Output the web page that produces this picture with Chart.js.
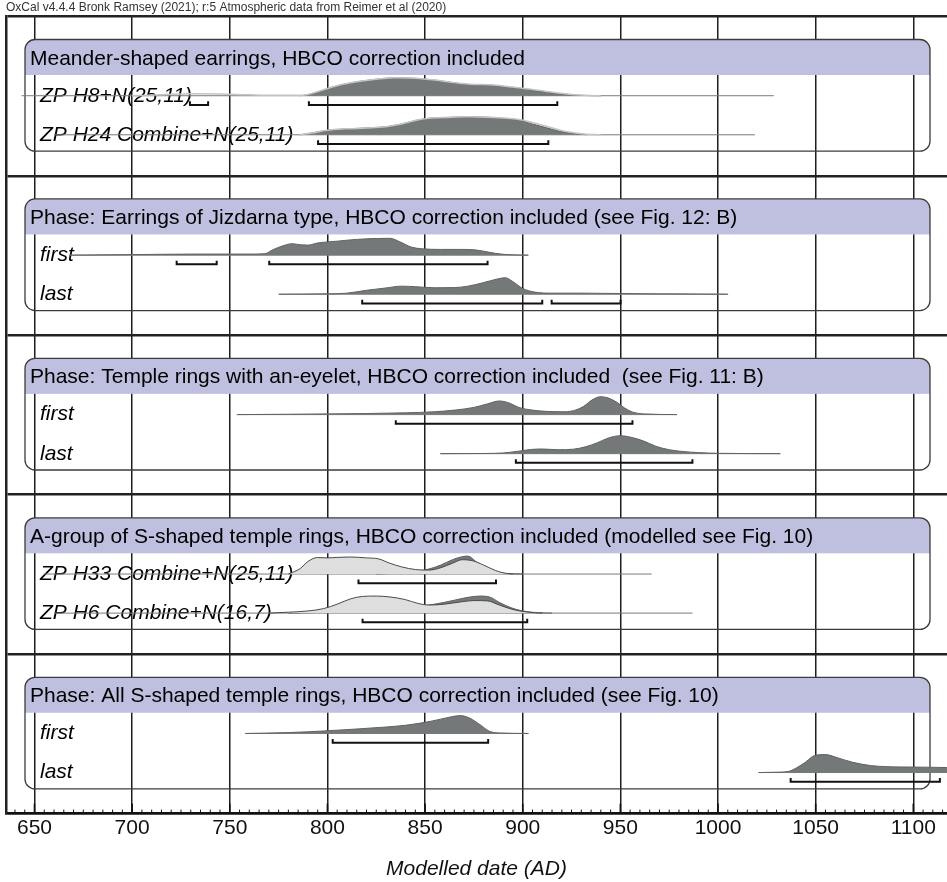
<!DOCTYPE html>
<html>
<head>
<meta charset="utf-8">
<script src="https://cdn.jsdelivr.net/npm/chart.js@4.4.1/dist/chart.umd.min.js"></script>
<style>
  html, body { margin: 0; padding: 0; background: #fff; }
</style>
</head>
<body>
<canvas id="chart" width="947" height="882"></canvas>
<script>
// axis ticks
const tickLabels = [650, 700, 750, 800, 850, 900, 950, 1000, 1050, 1100];

// panel headers and row labels
const panelTitles = [
  'Meander-shaped earrings, HBCO correction included',
  'Phase: Earrings of Jizdarna type, HBCO correction included (see Fig. 12: B)',
  'Phase: Temple rings with an-eyelet, HBCO correction included  (see Fig. 11: B)',
  'A-group of S-shaped temple rings, HBCO correction included (modelled see Fig. 10)',
  'Phase: All S-shaped temple rings, HBCO correction included (see Fig. 10)'
];
const rowLabels = [
  ['ZP H8+N(25,11)', 'ZP H24 Combine+N(25,11)'],
  ['first', 'last'],
  ['first', 'last'],
  ['ZP H33 Combine+N(25,11)', 'ZP H6 Combine+N(16,7)'],
  ['first', 'last']
];

// distributions (year, relative probability)
const h8Years = [786, 790, 796, 803, 812, 822, 835, 845, 855, 865, 873, 885, 895, 905, 912, 918, 925, 932, 940];
const h8Post  = [0, 0.06, 0.25, 0.5, 0.72, 0.88, 1.0, 0.97, 0.87, 0.72, 0.62, 0.58, 0.45, 0.32, 0.2, 0.12, 0.05, 0.01, 0];
const h8PriorYears = [700, 715, 730, 745, 760, 775, 786, 790, 796, 803, 812, 822, 835, 845, 855, 865, 873, 885, 895, 905, 912, 918, 925, 932, 940];
const h8Prior      = [0, 0.05, 0.11, 0.1, 0.05, 0.02, 0.02, 0.07, 0.26, 0.5, 0.72, 0.88, 1.0, 0.97, 0.87, 0.73, 0.64, 0.6, 0.48, 0.35, 0.24, 0.15, 0.07, 0.02, 0];

const h24Years = [786, 792, 800, 810, 820, 830, 838, 845, 852, 862, 872, 882, 892, 899, 905, 912, 918, 924, 933];
const h24Post  = [0, 0.1, 0.25, 0.33, 0.38, 0.45, 0.6, 0.8, 0.92, 0.97, 1.0, 0.98, 0.9, 0.8, 0.6, 0.4, 0.22, 0.1, 0];
const h24PriorYears = [786, 792, 800, 810, 820, 830, 838, 845, 852, 862, 872, 882, 892, 899, 905, 912, 918, 924, 930, 940];
const h24Prior      = [0, 0.1, 0.25, 0.33, 0.38, 0.45, 0.6, 0.8, 0.92, 0.97, 1.0, 0.98, 0.92, 0.84, 0.68, 0.48, 0.3, 0.15, 0.06, 0];

const jizFirstYears = [668, 700, 730, 760, 768, 772, 778, 782, 786, 790, 795, 805, 815, 825, 832, 837, 843, 848, 858, 868, 875, 880, 886, 892, 903];
const jizFirstPost  = [0, 0.03, 0.06, 0.06, 0.08, 0.3, 0.55, 0.64, 0.58, 0.56, 0.68, 0.78, 0.88, 0.93, 0.94, 0.75, 0.45, 0.36, 0.32, 0.32, 0.3, 0.22, 0.1, 0.03, 0];

const jizLastYears = [775, 800, 810, 820, 830, 838, 845, 855, 865, 872, 880, 887, 891, 895, 900, 906, 915, 930, 950, 970, 990, 1005];
const jizLastPost  = [0, 0.02, 0.06, 0.22, 0.35, 0.45, 0.42, 0.36, 0.37, 0.45, 0.65, 0.85, 0.92, 0.7, 0.32, 0.12, 0.06, 0.06, 0.04, 0.02, 0.01, 0];

const eyeFirstYears = [754, 780, 800, 820, 840, 855, 865, 875, 882, 888, 893, 898, 905, 912, 920, 926, 931, 936, 940, 944, 948, 952, 956, 962, 979];
const eyeFirstPost  = [0, 0.02, 0.04, 0.06, 0.1, 0.16, 0.25, 0.4, 0.6, 0.76, 0.65, 0.4, 0.25, 0.18, 0.16, 0.22, 0.45, 0.85, 1.0, 0.92, 0.7, 0.38, 0.15, 0.04, 0];

const eyeLastYears = [858, 880, 890, 898, 905, 910, 918, 926, 932, 938, 944, 950, 956, 962, 968, 975, 982, 990, 1000, 1032];
const eyeLastPost  = [0, 0.01, 0.04, 0.14, 0.24, 0.26, 0.22, 0.25, 0.38, 0.6, 0.88, 1.0, 0.9, 0.7, 0.42, 0.22, 0.12, 0.06, 0.02, 0];

const h33PriorYears = [780, 786, 790, 795, 800, 805, 812, 820, 826, 832, 838, 845, 852, 858, 864, 869, 874, 880, 886, 892, 900];
const h33Prior      = [0, 0.3, 0.7, 0.92, 0.9, 0.93, 0.95, 0.9, 0.85, 0.6, 0.4, 0.25, 0.22, 0.35, 0.6, 0.8, 0.75, 0.5, 0.2, 0.03, 0];
const h33Years = [825, 835, 845, 852, 858, 864, 869, 872, 876, 880, 885, 890, 895];
const h33Post  = [0, 0.05, 0.15, 0.28, 0.5, 0.8, 0.97, 1.0, 0.7, 0.45, 0.2, 0.05, 0];

const h6PriorYears = [770, 780, 790, 798, 805, 812, 818, 825, 832, 840, 846, 852, 860, 868, 875, 882, 888, 895, 902, 910];
const h6Prior      = [0, 0.05, 0.12, 0.25, 0.5, 0.8, 0.93, 0.95, 0.9, 0.75, 0.55, 0.45, 0.5, 0.62, 0.7, 0.68, 0.45, 0.2, 0.06, 0];
const h6Years = [780, 800, 820, 835, 845, 855, 865, 872, 878, 883, 888, 894, 900, 908, 915];
const h6Post  = [0, 0.05, 0.15, 0.25, 0.35, 0.5, 0.72, 0.88, 0.95, 0.9, 0.6, 0.3, 0.12, 0.02, 0];

const allFirstYears = [758, 780, 800, 815, 830, 840, 850, 858, 863, 868, 873, 878, 883, 888, 903];
const allFirstPost  = [0, 0.05, 0.15, 0.25, 0.36, 0.46, 0.62, 0.8, 0.92, 1.0, 0.85, 0.5, 0.12, 0.03, 0];

const allLastYears = [1021, 1030, 1036, 1040, 1044, 1050, 1055, 1061, 1069, 1078, 1086, 1095, 1105, 1117, 1125];
const allLastPost  = [0, 0.02, 0.06, 0.25, 0.52, 0.97, 1.0, 0.83, 0.57, 0.39, 0.33, 0.31, 0.3, 0.28, 0.26];

// thin baseline extent of each row
const rowSpans = [[643.4, 1028.6], [660, 1018.9], [668, 902.7], [775.2, 1005.2], [753.5, 978.8],
                  [857.6, 1031.7], [655, 966], [660, 986.9], [757.8, 902.8], [1020.6, 1130]];

// highest posterior density ranges of each row
const rowRanges = [
  [[729.6, 738.9], [790.5, 917.7]],
  [[795.2, 913.1]],
  [[722.8, 743.3], [770.2, 882]],
  [[817.8, 910], [914.8, 950.1]],
  [[835, 956.2]],
  [[896.5, 986.9]],
  [[815.9, 886.3]],
  [[818, 902.3]],
  [[802.7, 882.3]],
  [[1037.2, 1113.6]]
];

const posteriors = [
  [h8Years, h8Post], [h24Years, h24Post], [jizFirstYears, jizFirstPost], [jizLastYears, jizLastPost],
  [eyeFirstYears, eyeFirstPost], [eyeLastYears, eyeLastPost], [h33Years, h33Post], [h6Years, h6Post],
  [allFirstYears, allFirstPost], [allLastYears, allLastPost]
];
// [row, years, values, filled]
const priors = [
  [0, h8PriorYears, h8Prior, false], [1, h24PriorYears, h24Prior, false],
  [6, h33PriorYears, h33Prior, true], [7, h6PriorYears, h6Prior, true]
];

// layout inside a panel (panel = 4 y units)
const PANEL = 4, BOX_TOP = 0.58, HEAD_BOTTOM = 1.47, BOX_BOTTOM = 3.38;
const ROW_OFFSETS = [1.99, 2.97], BAR_OFFSET = 0.23, HOOK = 0.09, PEAK = 0.45;
const FONT = '"Liberation Sans", Arial, Helvetica, sans-serif';

function rowBase(r) {
  return Math.floor(r / 2) * PANEL + ROW_OFFSETS[r % 2];
}
function curve(years, vals, r) {
  const b = rowBase(r);
  return years.map((x, i) => ({ x: x, y: b - vals[i] * PEAK }));
}

const datasets = [];
priors.forEach(([r, ys, vs, filled]) => {
  datasets.push({
    data: curve(ys, vs, r),
    borderColor: filled ? '#4a4a4a' : '#c4c4c4',
    borderWidth: filled ? 1 : 1.5,
    backgroundColor: '#dedede',
    fill: filled ? { value: rowBase(r) } : false,
    cubicInterpolationMode: 'monotone'
  });
});
posteriors.forEach(([ys, vs], r) => {
  datasets.push({
    data: curve(ys, vs, r),
    borderColor: '#5f6363',
    borderWidth: 1,
    backgroundColor: '#747878',
    fill: { value: rowBase(r) },
    cubicInterpolationMode: 'monotone'
  });
});
rowSpans.forEach(([a, b], r) => {
  datasets.push({
    data: [{ x: a, y: rowBase(r) }, { x: b, y: rowBase(r) }],
    borderColor: '#7a7a7a',
    borderWidth: 1,
    fill: false
  });
});
rowRanges.forEach((ranges, r) => {
  const yb = rowBase(r) + BAR_OFFSET;
  const pts = [];
  ranges.forEach(([a, b], k) => {
    if (k > 0) pts.push({ x: a, y: null });
    pts.push({ x: a, y: yb - HOOK }, { x: a, y: yb }, { x: b, y: yb }, { x: b, y: yb - HOOK });
  });
  datasets.push({
    data: pts,
    borderColor: '#111',
    borderWidth: 2,
    fill: false,
    tension: 0,
    spanGaps: false
  });
});

const panelPlugin = {
  id: 'panels',
  beforeDatasetsDraw(chart) {
    const { ctx, chartArea: area, scales: { y } } = chart;
    const left = area.left + 19, right = 930;
    panelTitles.forEach((title, p) => {
      const top = y.getPixelForValue(p * PANEL + BOX_TOP);
      const head = y.getPixelForValue(p * PANEL + HEAD_BOTTOM);
      const bottom = y.getPixelForValue(p * PANEL + BOX_BOTTOM);
      ctx.save();
      ctx.beginPath();
      ctx.roundRect(left, top, right - left, bottom - top, 10);
      ctx.clip();
      ctx.fillStyle = '#bfbfdf';
      ctx.fillRect(left, top, right - left, head - top);
      ctx.restore();

      ctx.save();
      ctx.beginPath();
      ctx.roundRect(left, top, right - left, bottom - top, 10);
      ctx.strokeStyle = '#3c3c3c';
      ctx.lineWidth = 1.3;
      ctx.stroke();

      ctx.fillStyle = '#000';
      ctx.textBaseline = 'middle';
      ctx.font = '21px ' + FONT;
      ctx.fillText(title, left + 5, (top + head) / 2 + 1.5);
      ctx.font = 'italic 21px ' + FONT;
      rowLabels[p].forEach((label, s) => {
        ctx.fillText(label, left + 15, y.getPixelForValue(rowBase(p * 2 + s)));
      });
      ctx.restore();
    });
  },
  afterDraw(chart) {
    const { ctx, chartArea: area, scales: { x } } = chart;
    ctx.save();
    ctx.strokeStyle = '#111';
    for (let v = 640; v <= 1115; v += 5) {
      const px = x.getPixelForValue(v);
      if (px < area.left || px > area.right) continue;
      const major = v % 50 === 0;
      ctx.lineWidth = major ? 1.6 : 1;
      ctx.beginPath();
      ctx.moveTo(px, area.bottom);
      ctx.lineTo(px, area.bottom - (major ? 10 : 4));
      ctx.stroke();
    }
    ctx.restore();
  }
};

new Chart(document.getElementById('chart'), {
  type: 'line',
  data: { datasets: datasets },
  plugins: [panelPlugin],
  options: {
    responsive: false,
    animation: false,
    devicePixelRatio: 1,
    layout: { padding: { left: 6, right: 0, top: 0, bottom: 0 } },
    elements: { point: { radius: 0 } },
    plugins: {
      legend: { display: false },
      tooltip: { enabled: false },
      title: {
        display: true,
        text: 'OxCal v4.4.4 Bronk Ramsey (2021); r:5 Atmospheric data from Reimer et al (2020)',
        align: 'start',
        color: '#333',
        font: { family: FONT, size: 12, weight: 'normal' },
        padding: { top: 0, bottom: 2 }
      }
    },
    scales: {
      x: {
        type: 'linear',
        min: 635.41,
        max: 1117.25,
        z: 1,
        afterBuildTicks: s => { s.ticks = tickLabels.map(v => ({ value: v })); },
        ticks: {
          autoSkip: false,
          maxRotation: 0,
          padding: 2,
          color: '#111',
          font: { family: FONT, size: 21 },
          callback: v => String(v)
        },
        grid: { color: '#1e1e1e', lineWidth: 1.5, drawTicks: false },
        border: { color: '#111', width: 2.5 },
        title: {
          display: true,
          text: 'Modelled date (AD)',
          color: '#111',
          font: { family: FONT, size: 21, style: 'italic' },
          padding: { top: 14, bottom: 0 }
        }
      },
      y: {
        type: 'linear',
        min: 0,
        max: 5 * PANEL,
        reverse: true,
        afterBuildTicks: s => { s.ticks = [0, 1, 2, 3, 4, 5].map(k => ({ value: k * PANEL })); },
        ticks: { display: false },
        grid: { color: '#222', lineWidth: 2.5, drawTicks: false },
        border: { color: '#222', width: 2.5 }
      }
    }
  }
});
</script>
</body>
</html>
